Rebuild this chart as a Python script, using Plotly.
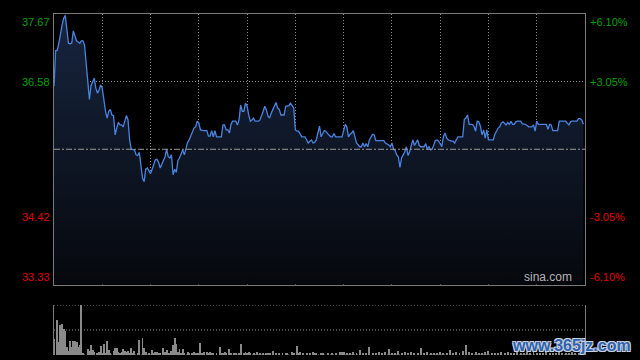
import plotly.graph_objects as go

# ---- data ----
prev_close = 35.50
y_labels_left = ["37.67", "36.58", "34.42", "33.33"]
y_label_vals = [37.67, 36.58, 34.42, 33.33]
y_labels_right = ["+6.10%", "+3.05%", "-3.05%", "-6.10%"]

minutes = [
    0, 1, 2, 3, 5, 6, 7, 8, 9, 10,
    11, 12, 13, 14, 15, 16, 17, 18, 19, 20,
    21, 22, 23, 24, 25, 26, 27, 28, 29, 30,
    31, 32, 33, 34, 35, 36, 37, 38, 39, 40,
    41, 42, 43, 44, 45, 46, 47, 48, 50, 51,
    52, 53, 54, 55, 56, 57, 58, 59, 60, 61,
    62, 63, 64, 65, 66, 67, 68, 69, 70, 71,
    72, 73, 74, 75, 76, 77, 78, 80, 81, 82,
    83, 84, 86, 87, 88, 89, 90, 91, 93, 95,
    96, 97, 98, 99, 100, 101, 104, 105, 106, 107,
    108, 109, 110, 111, 113, 114, 115, 116, 117, 118,
    119, 120, 121, 122, 123, 124, 125, 127, 128, 129,
    130, 131, 132, 133, 134, 135, 136, 138, 139, 140,
    141, 143, 144, 145, 146, 147, 148, 149, 150, 151,
    152, 153, 154, 156, 157, 158, 159, 160, 161, 162,
    163, 164, 165, 166, 168, 169, 170, 172, 173, 174,
    175, 179, 180, 181, 182, 183, 184, 185, 186, 187,
    188, 190, 191, 192, 193, 194, 195, 196, 197, 198,
    199, 200, 201, 203, 205, 206, 208, 209, 210, 211,
    212, 213, 214, 215, 216, 217, 218, 219, 220, 221,
    222, 223, 224, 225, 226, 227, 228, 230, 231, 232,
    233, 234, 235, 236, 237, 238, 239, 240, 241, 242,
    243, 244, 245, 247, 248, 249, 250, 251, 254, 255,
    256, 257, 258, 260, 261, 262, 263, 264, 265, 266,
    267, 268, 269, 270, 271, 273, 274, 275, 276, 277,
    278, 279, 280, 281, 282, 283, 284, 285, 286, 287,
    288, 290, 291, 293, 294, 295, 297, 298, 299, 300,
    301, 302, 304, 306, 307, 308, 309, 310, 311, 313,
    314, 316, 318, 319, 320, 321, 322, 324, 325, 326,
    327, 328, 329,
]
prices = [
    36.51, 37.08, 37.09, 37.20, 37.49, 37.60, 37.65, 37.41, 37.20, 37.19,
    37.20, 37.40, 37.33, 37.24, 37.22, 37.20, 37.24, 37.24, 37.17, 36.88,
    36.56, 36.30, 36.52, 36.57, 36.64, 36.48, 36.40, 36.45, 36.53, 36.48,
    36.24, 36.11, 36.00, 36.11, 36.14, 36.05, 36.04, 35.73, 35.84, 35.93,
    35.89, 35.89, 35.86, 35.97, 36.04, 35.97, 35.65, 35.50, 35.49, 35.41,
    35.40, 35.45, 35.22, 35.04, 34.98, 35.18, 35.20, 35.14, 35.11, 35.18,
    35.25, 35.33, 35.34, 35.29, 35.20, 35.27, 35.32, 35.38, 35.50, 35.38,
    35.36, 35.41, 35.09, 35.18, 35.13, 35.32, 35.36, 35.49, 35.41, 35.54,
    35.61, 35.65, 35.76, 35.84, 35.86, 35.95, 35.92, 35.81, 35.80, 35.80,
    35.71, 35.71, 35.80, 35.70, 35.80, 35.70, 35.70, 35.89, 35.89, 35.81,
    35.81, 35.76, 35.90, 35.95, 35.95, 35.89, 35.97, 36.21, 36.11, 36.11,
    36.24, 36.19, 36.05, 35.95, 35.97, 36.00, 35.95, 35.95, 35.97, 36.03,
    36.11, 36.19, 36.13, 36.03, 36.00, 36.08, 36.14, 36.25, 36.16, 36.14,
    36.05, 36.05, 36.19, 36.20, 36.20, 36.24, 36.20, 36.16, 35.81, 35.79,
    35.79, 35.74, 35.70, 35.70, 35.65, 35.60, 35.63, 35.65, 35.60, 35.61,
    35.65, 35.76, 35.87, 35.70, 35.80, 35.79, 35.75, 35.70, 35.70, 35.75,
    35.70, 35.70, 35.82, 35.90, 35.86, 35.70, 35.74, 35.76, 35.80, 35.70,
    35.60, 35.54, 35.54, 35.60, 35.54, 35.59, 35.54, 35.65, 35.70, 35.74,
    35.73, 35.64, 35.64, 35.64, 35.64, 35.60, 35.57, 35.54, 35.60, 35.50,
    35.48, 35.41, 35.38, 35.21, 35.36, 35.41, 35.46, 35.54, 35.40, 35.46,
    35.57, 35.65, 35.56, 35.60, 35.65, 35.56, 35.54, 35.54, 35.59, 35.50,
    35.54, 35.49, 35.50, 35.57, 35.64, 35.65, 35.63, 35.59, 35.54, 35.70,
    35.76, 35.68, 35.65, 35.63, 35.63, 35.60, 35.65, 35.70, 35.70, 35.98,
    36.00, 36.05, 35.90, 35.90, 35.87, 35.79, 35.95, 35.94, 35.87, 35.73,
    35.81, 35.68, 35.81, 35.65, 35.65, 35.65, 35.74, 35.80, 35.84, 35.86,
    35.92, 35.94, 35.92, 35.89, 35.93, 35.90, 35.95, 35.90, 35.90, 35.94,
    35.95, 35.95, 35.91, 35.90, 35.88, 35.86, 35.86, 35.89, 35.79, 35.95,
    35.90, 35.90, 35.90, 35.90, 35.82, 35.90, 35.89, 35.80, 35.80, 35.80,
    35.95, 35.95, 35.95, 35.92, 35.89, 35.94, 35.95, 35.95, 35.95, 35.99,
    35.99, 35.97, 35.90,
]

vol_minutes = [
    0, 2, 3, 4, 5, 6, 7, 8, 9, 10, 11, 12, 13, 14, 15, 16, 17, 18, 21, 22,
    23, 24, 25, 27, 28, 29, 30, 31, 32, 33, 34, 35, 37, 38, 39, 40, 41, 42, 43, 44,
    45, 46, 47, 48, 49, 50, 52, 53, 55, 56, 57, 59, 61, 62, 63, 64, 65, 66, 68, 69,
    70, 71, 72, 73, 74, 75, 76, 77, 78, 79, 80, 81, 83, 84, 86, 87, 88, 89, 90, 91,
    92, 93, 95, 96, 97, 98, 99, 101, 103, 104, 105, 106, 107, 109, 110, 112, 113, 115, 116, 118,
    119, 120, 121, 122, 124, 126, 128, 130, 132, 133, 134, 136, 138, 140, 142, 144, 145, 148, 149, 151,
    152, 153, 155, 157, 159, 161, 162, 163, 166, 167, 170, 173, 175, 178, 179, 180, 182,
    184, 186, 188, 190, 192, 194, 196, 198, 200, 202, 204, 206, 208, 210, 212, 214, 216, 218, 220, 222,
    224, 226, 228, 230, 232, 234, 236, 238, 240, 242, 244, 246, 248, 250, 252, 254, 256, 258, 260, 262,
    264, 266, 268, 270, 272, 274, 276, 278, 280, 282, 284, 286, 288, 290, 292, 294, 296, 298, 300, 302,
    304, 306, 308, 310, 312, 314, 316, 318, 320, 322, 324, 326, 328,
]
vol_values = [
    15.3, 34, 12.7, 29, 30, 25, 24, 8, 4, 14, 8, 14, 14, 12.7, 8, 10, 49, 1.7, 6, 4.3,
    10, 5, 2.7, 2, 2.7, 9.3, 1.7, 10.3, 1.7, 13.3, 5, 1, 4.3, 7, 7, 2.7, 1.7, 2.7, 6, 4.3,
    3.3, 4.3, 1, 7, 1.7, 4.3, 1, 14.3, 17, 7, 2.7, 1, 5.3, 1.7, 3.3, 2.7, 1.7, 2.3, 7, 3.3,
    5, 2.3, 1, 4.3, 10, 17, 11, 2.7, 6, 2, 6, 1.7, 2.7, 2, 2.3, 3.3, 1, 2.3, 1.7, 11.7,
    1.7, 2.7, 3.3, 2, 3.3, 1, 1.7, 1.7, 8.3, 1.7, 1.7, 2.7, 1, 6, 1.7, 1, 1, 1, 10.3, 2,
    2.7, 1.7, 2.7, 1, 1, 2.7, 1, 1.7, 1, 1.7, 1, 4.3, 1, 1.7, 1.7, 1.7, 1.7, 3.3, 1.7, 9.3,
    1.7, 2.7, 1, 1, 1.7, 2.7, 1, 1.7, 1, 1.7, 1, 1.7, 1, 2.7, 2.7, 2.7, 1,
    2, 3, 1.7, 5, 2, 1, 8, 2, 1.7, 3, 1, 2.7, 6, 1.7, 2, 4, 1, 2.7, 1.7, 3.3,
    1, 2, 7, 1.7, 2.7, 1, 2, 1.7, 3, 1, 2, 5, 1.7, 2.7, 1, 4, 10, 2.7, 1.7, 3,
    2, 1, 2.7, 4.3, 1.7, 2, 1, 2.7, 1.7, 3.3, 1, 2, 2.7, 1.7, 1, 2.7, 1.7, 3, 1, 2,
    1.7, 2.7, 1, 2, 1.7, 3.3, 1, 2, 1.7, 2.7, 1, 2, 3,
]
assert len(minutes) == len(prices)
assert len(vol_minutes) == len(vol_values)

ymin, ymax = 33.33, 37.67
grid_minutes = [30, 60, 90, 120, 150, 180, 210, 240, 270, 300]
GREEN = "#00a000"
RED = "#e00000"
GRID = "#8c8c8c"
BORDER = "#7a7a7a"
FONT = "Liberation Sans, Arial, sans-serif"

fig = go.Figure()
fig.add_trace(go.Scatter(
    x=minutes, y=prices, mode="lines", xaxis="x", yaxis="y",
    line=dict(color="#4a84e0", width=1.3),
    fill="tozeroy",
    fillgradient=dict(type="vertical", start=ymin, stop=ymax,
                      colorscale=[[0, "#06080d"], [1, "#17253f"]]),
    hoverinfo="skip", showlegend=False,
))
fig.add_trace(go.Bar(
    x=vol_minutes, y=vol_values, xaxis="x2", yaxis="y2", width=0.6,
    marker=dict(color="#8a8a8a", line=dict(width=0)),
    hoverinfo="skip", showlegend=False,
))

main_dom = [0.2067, 1.0]
vol_dom = [0.0, 0.1466]
fig.update_layout(
    width=640, height=360,
    margin=dict(l=54, r=55, t=14, b=5),
    paper_bgcolor="black", plot_bgcolor="black",
    bargap=0,
    xaxis=dict(domain=[0, 1], range=[0, 330], tickvals=grid_minutes, showticklabels=False,
               showgrid=True, gridcolor=GRID, griddash="1px,2px", gridwidth=1,
               zeroline=False, showline=True, mirror=True, linecolor=BORDER, linewidth=1,
               ticks=""),
    yaxis=dict(domain=main_dom, range=[ymin, ymax], tickvals=[36.58, 34.42], showticklabels=False,
               showgrid=True, gridcolor=GRID, griddash="1px,2px", gridwidth=1,
               zeroline=False, showline=True, mirror=True, linecolor=BORDER, linewidth=1,
               ticks=""),
    xaxis2=dict(domain=[0, 1], range=[0, 330], anchor="y2", showticklabels=False,
                showgrid=False, zeroline=False, showline=False, ticks=""),
    yaxis2=dict(domain=vol_dom, range=[0, 49], anchor="x2", showticklabels=False,
                showgrid=False, zeroline=False, showline=True, mirror=True,
                linecolor=BORDER, linewidth=1, ticks=""),
)

shapes = []
# previous close line
shapes.append(dict(type="line", xref="x domain", yref="y", x0=0, x1=1, y0=prev_close, y1=prev_close,
                   line=dict(color="#9a9a9a", width=1, dash="6px,2px,2px,2px"), layer="above"))
# volume panel dotted guides
for v in [0, 24.5, 49]:
    shapes.append(dict(type="line", xref="x2 domain", yref="y2", x0=0, x1=1, y0=v, y1=v,
                       line=dict(color=GRID, width=1, dash="1px,2px"), layer="below"))
fig.update_layout(shapes=shapes)

ann = []
for i, (lab, val) in enumerate(zip(y_labels_left, y_label_vals)):
    color = GREEN if val > prev_close else RED
    yanchor = "top" if i == 0 else ("bottom" if i == len(y_label_vals) - 1 else "middle")
    ann.append(dict(xref="paper", yref="y", x=0, y=val, text=lab, showarrow=False,
                    xanchor="right", yanchor=yanchor, xshift=-2,
                    font=dict(family=FONT, size=11, color=color)))
    ann.append(dict(xref="paper", yref="y", x=1, y=val, text=y_labels_right[i], showarrow=False,
                    xanchor="left", yanchor=yanchor, xshift=3,
                    font=dict(family=FONT, size=11, color=color)))
ann.append(dict(xref="paper", yref="y", x=1, y=ymin, text="sina.com", showarrow=False,
                xanchor="right", yanchor="bottom", xshift=-11, yshift=-1,
                font=dict(family=FONT, size=12, color="#b4b4b4")))
ann.append(dict(xref="paper", yref="paper", x=1, y=0, text="<b>www.365jz.com</b>", showarrow=False,
                xanchor="right", yanchor="middle", xshift=48, yshift=10,
                font=dict(family=FONT, size=16, color="#2f62ad",
                          shadow="-1px -1px 0 #c8d2e2, 1px -1px 0 #c8d2e2, -1px 1px 0 #c8d2e2, 1px 1px 0 #c8d2e2")))
fig.update_layout(annotations=ann)

fig.write_html("out.html", config={"displayModeBar": False},
               post_script="document.body.style.margin='0';document.body.style.overflow='hidden';")
